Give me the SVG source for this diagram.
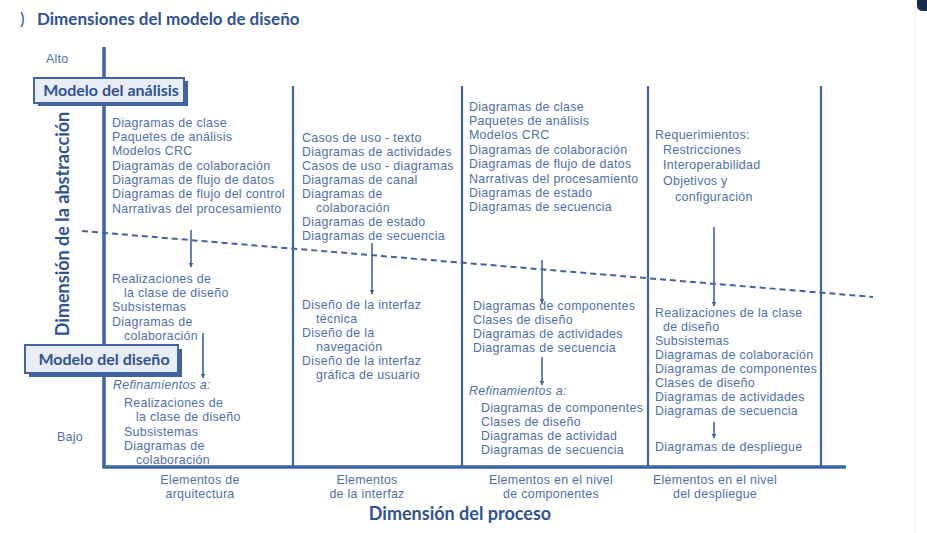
<svg xmlns="http://www.w3.org/2000/svg" width="927" height="533" viewBox="0 0 927 533">
<style>
.t{font-family:"Liberation Sans",Arial,sans-serif;font-size:12.4px;letter-spacing:0.3px;fill:#4e70aa}
.i{font-style:italic}
.b{font-family:Lato,"Liberation Sans",sans-serif;font-weight:bold;fill:#2f5391}
.ax{stroke:#3f64a2;stroke-width:3.5;fill:none}
.col{stroke:#3f64a2;stroke-width:2.2;fill:none}
.arr{stroke:#3f64a2;stroke-width:1.6;fill:none;marker-end:url(#ah)}
.box{fill:#e9edf6;stroke:#3f64a2;stroke-width:2}
.sh{fill:#3f64a2}
.c{text-anchor:middle}
</style>
<defs>
<marker id="ah" viewBox="0 0 10 10" refX="9" refY="5" markerWidth="5" markerHeight="5" orient="auto" markerUnits="userSpaceOnUse">
<path d="M0,0 L10,5 L0,10 z" fill="#3f64a2"/>
</marker>
</defs>
<rect width="927" height="533" fill="#ffffff"/>
<line x1="915.5" y1="0" x2="915.5" y2="533" stroke="#f1f1f1" stroke-width="1"/>
<rect x="917" y="-10" width="20" height="21" rx="5" fill="#172c4d"/>

<g id="title">
<text x="20" y="25" class="b" style="font-size:17px;font-weight:normal">)</text>
<text x="37" y="25" class="b" style="font-size:17px">Dimensiones del modelo de diseño</text>
</g>

<g id="connectors">
<line class="ax" x1="104" y1="47" x2="104" y2="468"/>
<line class="ax" x1="102.5" y1="467" x2="846" y2="467"/>
<line class="col" x1="293" y1="86" x2="293" y2="467"/>
<line class="col" x1="462" y1="86" x2="462" y2="467"/>
<line class="col" x1="648" y1="86" x2="648" y2="467"/>
<line class="col" x1="821" y1="86" x2="821" y2="467"/>
<line x1="82" y1="231" x2="873" y2="297" stroke="#3f64a2" stroke-width="2" stroke-dasharray="6,4"/>
<line class="arr" x1="191" y1="230" x2="191" y2="267"/>
<line class="arr" x1="203" y1="333" x2="203" y2="378"/>
<line class="arr" x1="372" y1="243" x2="372" y2="294"/>
<line class="arr" x1="542" y1="260" x2="542" y2="303"/>
<line class="arr" x1="542" y1="357" x2="542" y2="385"/>
<line class="arr" x1="714" y1="227" x2="714" y2="306"/>
<line class="arr" x1="714" y1="422" x2="714" y2="438"/>
</g>

<g id="axis-labels">
<text x="46" y="63" class="t">Alto</text>
<text x="57" y="441" class="t">Bajo</text>
<text transform="translate(69,224) rotate(-90)" class="b c" style="font-size:18px">Dimensión de la abstracción</text>
<text x="460" y="520" class="b c" style="font-size:18px">Dimensión del proceso</text>
</g>

<g id="modelo-analisis">
<rect class="sh" x="38" y="81" width="150" height="25"/>
<rect class="box" x="34" y="78" width="150" height="25"/>
<text x="111" y="96" class="b c" style="font-size:16px">Modelo del análisis</text>
</g>

<g id="modelo-diseno">
<rect class="sh" x="29" y="349" width="153" height="28"/>
<rect class="box" x="25" y="345" width="153" height="28"/>
<text x="104" y="365" class="b c" style="font-size:16px">Modelo del diseño</text>
</g>

<g id="col-arquitectura">
<text class="t"><tspan x="112" y="127">Diagramas de clase</tspan><tspan x="112" y="141">Paquetes de análisis</tspan><tspan x="112" y="155">Modelos CRC</tspan><tspan x="112" y="170">Diagramas de colaboración</tspan><tspan x="112" y="184">Diagramas de flujo de datos</tspan><tspan x="112" y="198">Diagramas de flujo del control</tspan><tspan x="112" y="213">Narrativas del procesamiento</tspan></text>
<text class="t"><tspan x="112" y="283">Realizaciones de</tspan><tspan x="124" y="297">la clase de diseño</tspan><tspan x="112" y="311">Subsistemas</tspan><tspan x="112" y="326">Diagramas de</tspan><tspan x="124" y="340">colaboración</tspan></text>
<text class="t"><tspan class="i" x="113" y="389">Refinamientos a:</tspan><tspan x="124" y="407">Realizaciones de</tspan><tspan x="136" y="421">la clase de diseño</tspan><tspan x="124" y="436">Subsistemas</tspan><tspan x="124" y="450">Diagramas de</tspan><tspan x="136" y="464">colaboración</tspan></text>
<text class="t c"><tspan x="200" y="484">Elementos de</tspan><tspan x="200" y="498">arquitectura</tspan></text>
</g>

<g id="col-interfaz">
<text class="t"><tspan x="302" y="142">Casos de uso - texto</tspan><tspan x="302" y="156">Diagramas de actividades</tspan><tspan x="302" y="170">Casos de uso - diagramas</tspan><tspan x="302" y="184">Diagramas de canal</tspan><tspan x="302" y="198">Diagramas de</tspan><tspan x="316" y="212">colaboración</tspan><tspan x="302" y="226">Diagramas de estado</tspan><tspan x="302" y="240">Diagramas de secuencia</tspan></text>
<text class="t"><tspan x="302" y="309">Diseño de la interfaz</tspan><tspan x="316" y="323">técnica</tspan><tspan x="302" y="337">Diseño de la</tspan><tspan x="316" y="351">navegación</tspan><tspan x="302" y="365">Diseño de la interfaz</tspan><tspan x="316" y="379">gráfica de usuario</tspan></text>
<text class="t c"><tspan x="367" y="484">Elementos</tspan><tspan x="367" y="498">de la interfaz</tspan></text>
</g>

<g id="col-componentes">
<text class="t"><tspan x="469" y="111">Diagramas de clase</tspan><tspan x="469" y="125">Paquetes de análisis</tspan><tspan x="469" y="139">Modelos CRC</tspan><tspan x="469" y="154">Diagramas de colaboración</tspan><tspan x="469" y="168">Diagramas de flujo de datos</tspan><tspan x="469" y="183">Narrativas del procesamiento</tspan><tspan x="469" y="197">Diagramas de estado</tspan><tspan x="469" y="211">Diagramas de secuencia</tspan></text>
<text class="t"><tspan x="473" y="310">Diagramas de componentes</tspan><tspan x="473" y="324">Clases de diseño</tspan><tspan x="473" y="338">Diagramas de actividades</tspan><tspan x="473" y="352">Diagramas de secuencia</tspan></text>
<text class="t"><tspan class="i" x="469" y="395">Refinamientos a:</tspan><tspan x="481" y="412">Diagramas de componentes</tspan><tspan x="481" y="426">Clases de diseño</tspan><tspan x="481" y="440">Diagramas de actividad</tspan><tspan x="481" y="454">Diagramas de secuencia</tspan></text>
<text class="t c"><tspan x="551" y="484">Elementos en el nivel</tspan><tspan x="551" y="498">de componentes</tspan></text>
</g>

<g id="col-despliegue">
<text class="t"><tspan x="655" y="139">Requerimientos:</tspan><tspan x="663" y="154">Restricciones</tspan><tspan x="663" y="169">Interoperabilidad</tspan><tspan x="663" y="185">Objetivos y</tspan><tspan x="675" y="201">configuración</tspan></text>
<text class="t"><tspan x="655" y="317">Realizaciones de la clase</tspan><tspan x="663" y="331">de diseño</tspan><tspan x="655" y="345">Subsistemas</tspan><tspan x="655" y="359">Diagramas de colaboración</tspan><tspan x="655" y="373">Diagramas de componentes</tspan><tspan x="655" y="387">Clases de diseño</tspan><tspan x="655" y="401">Diagramas de actividades</tspan><tspan x="655" y="415">Diagramas de secuencia</tspan></text>
<text class="t"><tspan x="655" y="451">Diagramas de despliegue</tspan></text>
<text class="t c"><tspan x="715" y="484">Elementos en el nivel</tspan><tspan x="715" y="498">del despliegue</tspan></text>
</g>
</svg>
